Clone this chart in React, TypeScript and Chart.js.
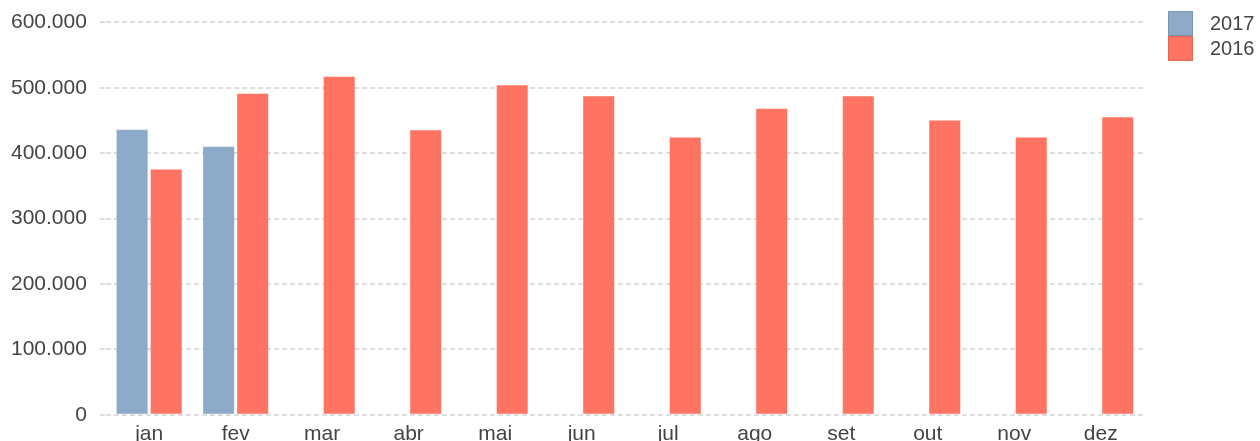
import React, { useEffect, useRef } from "react";
import { Chart, registerables } from "chart.js";

Chart.register(...registerables);

const months = ["jan", "fev", "mar", "abr", "mai", "jun", "jul", "ago", "set", "out", "nov", "dez"];
const series2017 = [436000, 410000, null, null, null, null, null, null, null, null, null, null];
const series2016 = [375000, 491000, 517000, 435000, 504000, 487000, 424000, 468000, 487000, 450000, 424000, 455000];
const yTicks = [0, 100000, 200000, 300000, 400000, 500000, 600000];

const COLOR_2017 = "#8eaac9";
const COLOR_2016 = "#ff7363";
const TEXT = "#444444";
const GRID = "#dedede";

const fmt = (v: number) => String(v).replace(/\B(?=(\d{3})+(?!\d))/g, ".");

const legendPlugin = {
  id: "sideLegend",
  afterDraw(chart: any) {
    const ctx = chart.ctx;
    const x = chart.width - 92;
    const size = 25;
    let y = 11;
    ctx.save();
    ctx.font = "20px 'Liberation Sans', Arial, sans-serif";
    ctx.textBaseline = "middle";
    chart.data.datasets.forEach((ds: any) => {
      ctx.fillStyle = ds.backgroundColor;
      ctx.fillRect(x, y, size, size);
      ctx.strokeStyle = "rgba(0,0,0,0.12)";
      ctx.lineWidth = 1;
      ctx.strokeRect(x + 0.5, y + 0.5, size - 1, size - 1);
      ctx.fillStyle = TEXT;
      ctx.fillText(ds.label, x + 42, y + size / 2 + 1);
      y += size;
    });
    ctx.restore();
  },
};

export default function App() {
  const ref = useRef<HTMLCanvasElement | null>(null);
  useEffect(() => {
    document.body.style.margin = "0";
    if (!ref.current) return;
    Chart.defaults.font.family = "'Liberation Sans', Arial, sans-serif";
    Chart.defaults.font.size = 21;
    Chart.defaults.color = TEXT;
    const chart = new Chart(ref.current, {
      type: "bar",
      data: {
        labels: months,
        datasets: [
          { label: "2017", data: series2017 as any, backgroundColor: COLOR_2017, borderWidth: 0 },
          { label: "2016", data: series2016, backgroundColor: COLOR_2016, borderWidth: 0 },
        ],
      },
      options: {
        animation: false,
        responsive: true,
        maintainAspectRatio: false,
        layout: { padding: { top: 10, left: -2, right: 116, bottom: 0 } },
        datasets: { bar: { categoryPercentage: 0.787, barPercentage: 0.912 } },
        plugins: { legend: { display: false }, tooltip: { enabled: false } },
        scales: {
          x: {
            grid: { display: false, drawTicks: false },
            border: { display: false },
            ticks: { padding: 7, color: TEXT, maxRotation: 0 },
          },
          y: {
            min: 0,
            max: 600000,
            afterBuildTicks: (scale: any) => {
              scale.ticks = yTicks.map((v) => ({ value: v }));
            },
            border: { display: false, dash: [5, 3] },
            grid: {
              color: GRID,
              lineWidth: 2,
              tickLength: 6,
              tickBorderDash: [5, 3],
            } as any,
            ticks: {
              padding: 13,
              color: TEXT,
              font: { size: 21, lineHeight: 0.9 },
              callback: (v: any) => fmt(Number(v)),
            },
          },
        },
      },
      plugins: [legendPlugin],
    });
    return () => chart.destroy();
  }, []);
  return (
    <div style={{ position: "fixed", top: 0, left: 0, width: 1260, height: 441, overflow: "hidden" }}>
      <div style={{ position: "relative", width: 1260, height: 454 }}>
        <canvas ref={ref} />
      </div>
    </div>
  );
}
